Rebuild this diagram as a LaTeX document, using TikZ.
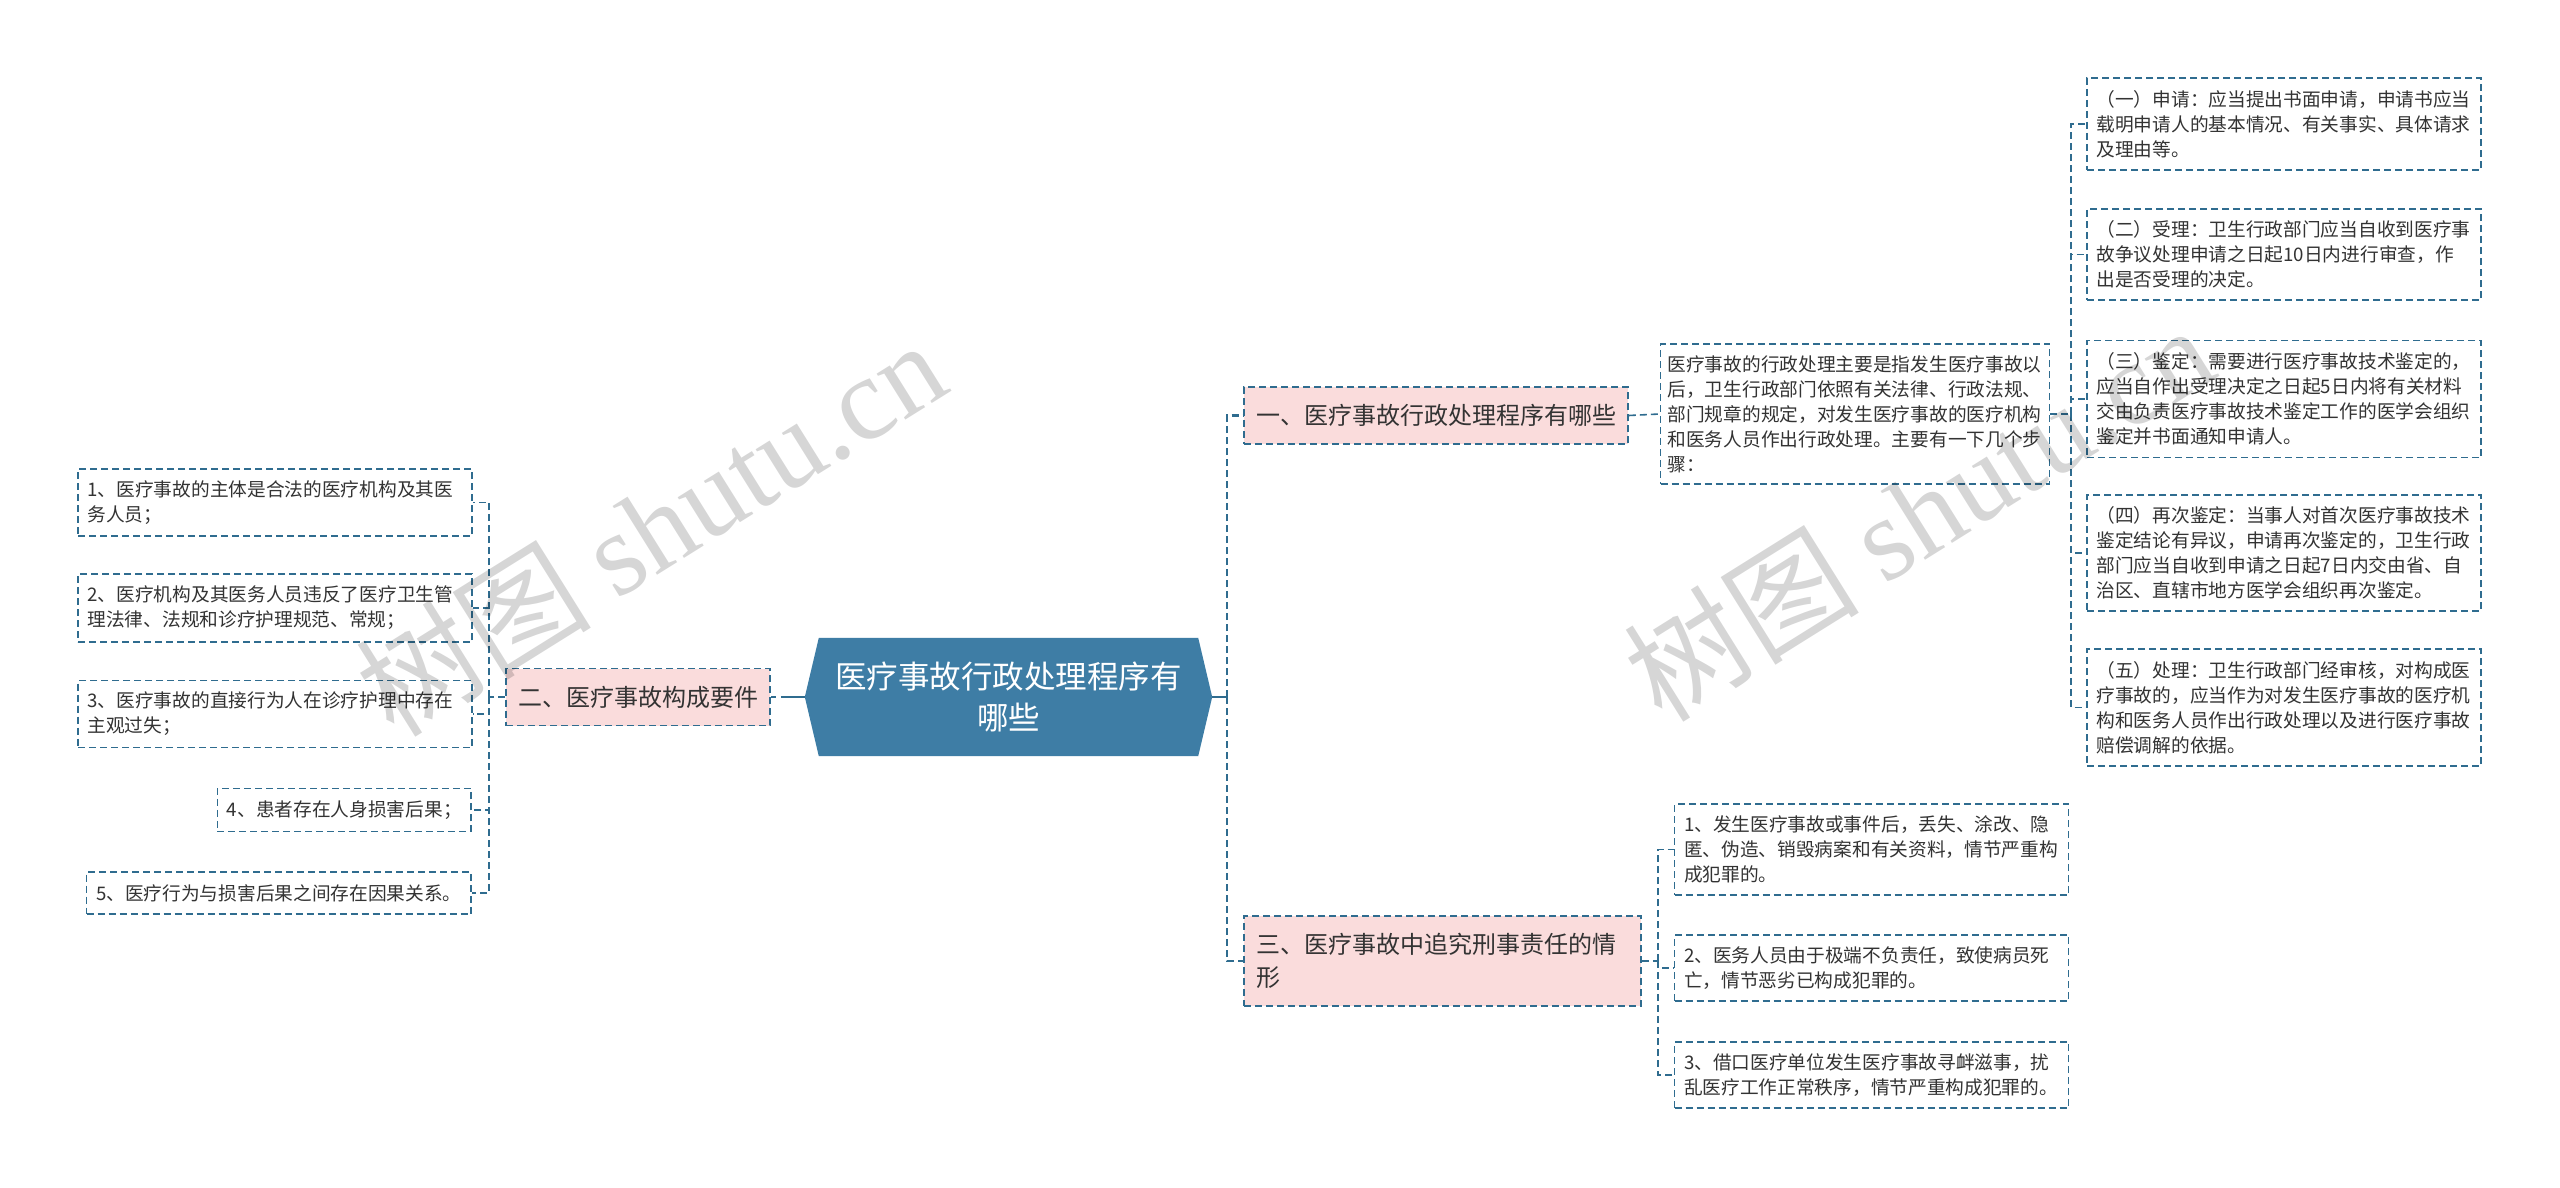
\documentclass[tikz,border=0pt]{standalone}
\usepackage{fontspec}
\setmainfont{Noto Sans CJK SC}
\newfontfamily\wmfont{Liberation Serif}
\usetikzlibrary{backgrounds}
\definecolor{linec}{HTML}{2F6C8F}
\definecolor{rootfill}{HTML}{3E7DA5}
\definecolor{pinkfill}{HTML}{FADCDC}
\definecolor{textc}{HTML}{333333}
\begin{document}
\begin{tikzpicture}[x=1pt,y=-1pt,
  boxline/.style={draw=linec, line width=1.6pt, dash pattern=on 7pt off 4pt},
  leaf/.style={boxline, fill=white, rectangle, inner xsep=9.5pt, inner ysep=0pt, align=left, text=textc, font=\fontsize{18.7}{25}\selectfont},
  wideleaf/.style={leaf, text width=375pt},
  branch/.style={boxline, fill=pinkfill, rectangle, inner xsep=12pt, inner ysep=0pt, align=left, text=textc, font=\fontsize{24}{33}\selectfont},
  rootnode/.style={rectangle, inner sep=0pt, align=center, text=white, font=\fontsize{31.5}{41}\selectfont, minimum width=407pt, minimum height=118pt},
  conn/.style={draw=linec, line width=1.6pt, dash pattern=on 7pt off 4pt},
  rootconn/.style={draw=linec, line width=2.6pt, dash pattern=on 7pt off 4pt},
  wm/.style={rotate=32, text=black, text opacity=0.16, font=\fontsize{118}{118}\selectfont, inner sep=0pt}
]
\useasboundingbox (0,0) rectangle (2560,1188);

% root
\node[rootnode] (root) at (1008.5,697) {医疗事故行政处理程序有\\哪些};
\begin{scope}[on background layer]
\fill[white] (0,0) rectangle (2560,1188);
\fill[rootfill] ([xshift=14pt]root.north west) -- ([xshift=-14pt]root.north east) -- (root.east)
  -- ([xshift=-14pt]root.south east) -- ([xshift=14pt]root.south west) -- (root.west) -- cycle;
\end{scope}

% branches
\node[branch, minimum height=57pt] (b1) at (1436,415.5) {一、医疗事故行政处理程序有哪些};
\node[branch, minimum height=57pt] (b2) at (638,697) {二、医疗事故构成要件};
\node[branch, minimum height=90pt, text width=373pt] (b3) at (1442.5,961) {三、医疗事故中追究刑事责任的情\\形};

% description
\node[leaf, text width=375pt, inner xsep=7pt, minimum height=140pt] (desc) at (1855,414) {医疗事故的行政处理主要是指发生医疗事故以\\后，卫生行政部门依照有关法律、行政法规、\\部门规章的规定，对发生医疗事故的医疗机构\\和医务人员作出行政处理。主要有一下几个步\\骤：};

% steps
\node[wideleaf, minimum height=92pt] (s1) at (2284,124) {（一）申请：应当提出书面申请，申请书应当\\载明申请人的基本情况、有关事实、具体请求\\及理由等。};
\node[wideleaf, minimum height=91pt] (s2) at (2284,254.5) {（二）受理：卫生行政部门应当自收到医疗事\\故争议处理申请之日起10日内进行审查，作\\出是否受理的决定。};
\node[wideleaf, minimum height=117pt] (s3) at (2284,399) {（三）鉴定：需要进行医疗事故技术鉴定的，\\应当自作出受理决定之日起5日内将有关材料\\交由负责医疗事故技术鉴定工作的医学会组织\\鉴定并书面通知申请人。};
\node[wideleaf, minimum height=116pt] (s4) at (2284,553) {（四）再次鉴定：当事人对首次医疗事故技术\\鉴定结论有异议，申请再次鉴定的，卫生行政\\部门应当自收到申请之日起7日内交由省、自\\治区、直辖市地方医学会组织再次鉴定。};
\node[wideleaf, minimum height=117pt] (s5) at (2284,707.5) {（五）处理：卫生行政部门经审核，对构成医\\疗事故的，应当作为对发生医疗事故的医疗机\\构和医务人员作出行政处理以及进行医疗事故\\赔偿调解的依据。};

% criminal cases
\node[wideleaf, minimum height=91pt] (c1) at (1871.5,849.5) {1、发生医疗事故或事件后，丢失、涂改、隐\\匿、伪造、销毁病案和有关资料，情节严重构\\成犯罪的。};
\node[wideleaf, minimum height=66pt] (c2) at (1871.5,968) {2、医务人员由于极端不负责任，致使病员死\\亡，情节恶劣已构成犯罪的。};
\node[wideleaf, minimum height=66pt] (c3) at (1871.5,1075) {3、借口医疗单位发生医疗事故寻衅滋事，扰\\乱医疗工作正常秩序，情节严重构成犯罪的。};

% left leaves
\node[wideleaf, minimum height=67pt] (l1) at (275,502.5) {1、医疗事故的主体是合法的医疗机构及其医\\务人员；};
\node[wideleaf, minimum height=68pt] (l2) at (275,608) {2、医疗机构及其医务人员违反了医疗卫生管\\理法律、法规和诊疗护理规范、常规；};
\node[wideleaf, minimum height=67pt] (l3) at (275,714) {3、医疗事故的直接行为人在诊疗护理中存在\\主观过失；};
\node[leaf, minimum height=43pt, anchor=east] (l4) at (472,810) {4、患者存在人身损害后果；};
\node[leaf, minimum height=42pt, anchor=east] (l5) at (472,893) {5、医疗行为与损害后果之间存在因果关系。};

% junction coordinates
\coordinate (rj) at (1227,697);
\coordinate (lj) at (489,697);
\coordinate (sj) at (2071,414);
\coordinate (cj) at (1658,961);

% connectors
\draw[draw=linec, line width=2.6pt] (root.east) -- (rj);
\draw[rootconn] (rj) |- (b1.west);
\draw[rootconn] (rj) |- (b3.west);
\draw[draw=linec, line width=2.6pt, dash pattern=on 5pt off 5pt on 40pt off 0pt] (b2.east) -- (root.west);

\draw[conn] (b1.east) -- (desc.west);
\draw[conn] (desc.east) -- (sj);
\foreach \s in {s1,s2,s3,s4,s5} { \draw[conn] (sj) |- (\s.west); }

\draw[conn] (b2.west) -- (lj);
\foreach \s in {l1,l2,l3,l4,l5} { \draw[conn] (lj) |- (\s.east); }

\draw[conn] (b3.east) -- (cj);
\foreach \s in {c1,c2,c3} { \draw[conn] (cj) |- (\s.west); }

% watermarks
\node[wm] (wm1) at (650,527) {树图 {\wmfont shutu.cn}};
\node[wm] (wm2) at (1918,512) {树图 {\wmfont shutu.cn}};
\end{tikzpicture}
\end{document}
